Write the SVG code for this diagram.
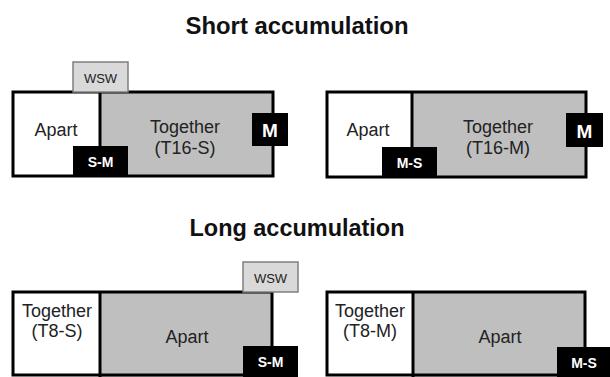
<svg xmlns="http://www.w3.org/2000/svg" width="610" height="377" viewBox="0 0 610 377">
<style>
.title{font-family:"Liberation Sans",Arial,sans-serif;font-weight:bold;font-size:24px;fill:#111;text-anchor:middle}
.lbl{font-family:"Liberation Sans",Arial,sans-serif;font-size:18px;fill:#222;text-anchor:middle}
.white{fill:#fff}
.gray{fill:#bfbfbf}
.frame{fill:none;stroke:#000;stroke-width:3}
.div{stroke:#000;stroke-width:3}
.blk{fill:#000}
.btxt{font-family:"Liberation Sans",Arial,sans-serif;font-weight:bold;fill:#fff;text-anchor:middle}
.sm{font-size:14px}
.m{font-size:19px}
.wsw{fill:#d9d9d9;stroke:#7f7f7f;stroke-width:1.5}
.wtxt{font-family:"Liberation Sans",Arial,sans-serif;font-size:13px;fill:#222;text-anchor:middle}
</style>
<text class="title" x="297" y="34" textLength="223" lengthAdjust="spacingAndGlyphs">Short accumulation</text>
<text class="title" x="297" y="236" textLength="215" lengthAdjust="spacingAndGlyphs">Long accumulation</text>

<g id="short-S">
<rect class="white" x="13" y="92" width="87" height="84"/>
<rect class="gray" x="100" y="92" width="173" height="84"/>
<rect class="frame" x="13" y="92" width="260" height="84"/>
<line class="div" x1="100" y1="92" x2="100" y2="176"/>
<rect class="wsw" x="73" y="62" width="55" height="30"/>
<text class="wtxt" x="100.5" y="82.5">WSW</text>
<rect class="blk" x="73" y="146" width="55" height="31"/>
<text class="btxt sm" x="100.5" y="167">S-M</text>
<rect class="blk" x="252" y="113" width="36" height="33"/>
<text class="btxt m" x="270" y="137">M</text>
<text class="lbl" x="56" y="136">Apart</text>
<text class="lbl" x="185" y="133">Together</text>
<text class="lbl" x="185" y="154">(T16-S)</text>
</g>

<g id="short-M">
<rect class="white" x="327" y="92" width="85" height="85"/>
<rect class="gray" x="412" y="92" width="174" height="85"/>
<rect class="frame" x="327" y="92" width="259" height="85"/>
<line class="div" x1="412" y1="92" x2="412" y2="177"/>
<rect class="blk" x="382" y="147" width="55" height="31"/>
<text class="btxt sm" x="409.5" y="168">M-S</text>
<rect class="blk" x="566" y="113" width="37" height="34"/>
<text class="btxt m" x="584.5" y="137.5">M</text>
<text class="lbl" x="368" y="136">Apart</text>
<text class="lbl" x="498" y="133">Together</text>
<text class="lbl" x="498" y="154">(T16-M)</text>
</g>

<g id="long-S">
<rect class="white" x="13" y="292" width="87" height="90"/>
<rect class="gray" x="100" y="292" width="172" height="90"/>
<rect class="frame" x="13" y="292" width="259" height="83"/>
<line class="div" x1="100" y1="292" x2="100" y2="377"/>
<rect class="wsw" x="243" y="262" width="55" height="30"/>
<text class="wtxt" x="270.5" y="282.5">WSW</text>
<rect class="blk" x="243" y="346" width="55" height="31"/>
<text class="btxt sm" x="270.5" y="367">S-M</text>
<text class="lbl" x="57" y="317">Together</text>
<text class="lbl" x="57" y="337">(T8-S)</text>
<text class="lbl" x="187" y="343">Apart</text>
</g>

<g id="long-M">
<rect class="white" x="327" y="292" width="86" height="90"/>
<rect class="gray" x="413" y="292" width="172" height="90"/>
<rect class="frame" x="327" y="292" width="258" height="83"/>
<line class="div" x1="413" y1="292" x2="413" y2="377"/>
<rect class="blk" x="557" y="347" width="55" height="30"/>
<text class="btxt sm" x="584" y="368">M-S</text>
<text class="lbl" x="370" y="317">Together</text>
<text class="lbl" x="370" y="337">(T8-M)</text>
<text class="lbl" x="500" y="343">Apart</text>
</g>

<g id="connectors"/>
</svg>
